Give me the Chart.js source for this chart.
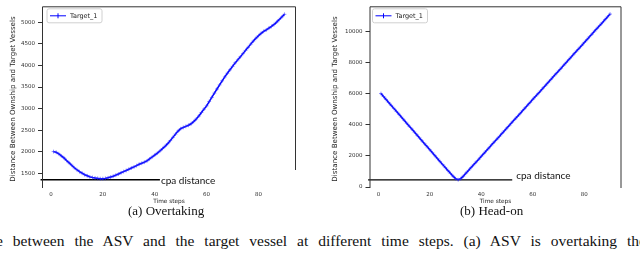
<!DOCTYPE html>
<html>
<head>
<meta charset="utf-8">
<script src="https://cdn.jsdelivr.net/npm/chart.js@4.4.1/dist/chart.umd.min.js"></script>
<style>
  html, body { margin: 0; padding: 0; background: #fff; }
  body { width: 640px; height: 256px; position: relative; overflow: hidden; }
  .panel { position: absolute; top: 0; width: 320px; height: 206px; }
  .cap { position: absolute; font-family: "Liberation Serif", serif; font-size: 13px; color: #111; white-space: nowrap; }
  #para { position: absolute; left: -4px; top: 232px; width: 650px; font-family: "Liberation Serif", serif;
          font-size: 15.5px; color: #111; text-align: justify; text-align-last: justify; }
</style>
</head>
<body>
<div class="panel" style="left:0"><canvas id="overtaking"></canvas></div>
<div class="panel" style="left:320px"><canvas id="headon"></canvas></div>
<div class="cap" style="left:128px; top:203px">(a) Overtaking</div>
<div class="cap" style="left:460px; top:203px">(b) Head-on</div>
<div id="para">e between the ASV and the target vessel at different time steps. (a) ASV is overtaking the</div>
<script>
// time steps shared by both runs
const steps = [];
for (let i = 1; i <= 90; i++) steps.push(i);
const xTicks = [0, 20, 40, 60, 80];

// (a) overtaking: distance per time step
const overtakingDist = [
  2005, 1990, 1955, 1905, 1860, 1800, 1745, 1690, 1630, 1585,
  1540, 1505, 1470, 1445, 1420, 1405, 1393, 1385, 1378, 1378,
  1385, 1398, 1415, 1435, 1460, 1485, 1515, 1542, 1568, 1595,
  1625, 1650, 1680, 1712, 1735, 1760, 1790, 1835, 1880, 1925,
  1970, 2020, 2075, 2130, 2190, 2260, 2335, 2410, 2480, 2535,
  2565, 2590, 2615, 2650, 2700, 2760, 2830, 2910, 2990, 3065,
  3165, 3260, 3360, 3455, 3550, 3645, 3735, 3820, 3900, 3980,
  4060, 4130, 4200, 4275, 4350, 4420, 4495, 4565, 4630, 4690,
  4745, 4790, 4825, 4865, 4905, 4950, 5005, 5065, 5125, 5185
];
const overtakingCpa = 1353;
const overtakingCpaX = [-4, 42];
const overtakingYTicks = [1500, 2000, 2500, 3000, 3500, 4000, 4500, 5000];

// (b) head-on: distance per time step
const headonDist = [
  6000, 5810, 5620, 5430, 5240, 5050, 4860, 4670, 4480, 4290,
  4100, 3910, 3720, 3530, 3340, 3150, 2960, 2770, 2580, 2390,
  2200, 2010, 1820, 1630, 1440, 1250, 1060, 880, 700, 540,
  470, 540, 700, 890, 1070, 1250, 1430, 1610, 1790, 1980,
  2160, 2340, 2520, 2710, 2890, 3070, 3250, 3440, 3620, 3800,
  3980, 4170, 4350, 4530, 4710, 4900, 5080, 5260, 5440, 5630,
  5810, 5990, 6170, 6360, 6540, 6720, 6900, 7090, 7270, 7450,
  7630, 7820, 8000, 8180, 8360, 8550, 8730, 8910, 9090, 9280,
  9460, 9640, 9820, 10010, 10190, 10370, 10550, 10740, 10920, 11100
];
const headonCpa = 460;
const headonCpaX = [-4, 52];
const headonYTicks = [0, 2000, 4000, 6000, 8000, 10000];

const seriesName = 'Target_1';
const xTitle = 'Time steps';
const yTitle = 'Distance Between Ownship and Target Vessels';
const cpaLabel = 'cpa distance';

const BLUE = '#0000ff';
const AXIS = '#333';
const TICK_FONT = { family: 'DejaVu Sans', size: 5.5 };

// frame (top/left/right spines), legend box, axis titles and the cpa label
const decor = {
  id: 'decor',
  afterDatasetsDraw(chart, args, o) {
    const { ctx, chartArea: a, scales } = chart;
    ctx.save();
    ctx.strokeStyle = AXIS;
    ctx.lineWidth = 1;
    ctx.beginPath();
    ctx.moveTo(a.left + 0.5, a.bottom);
    ctx.lineTo(a.left + 0.5, a.top + 0.5);
    ctx.lineTo(a.right - 0.5, a.top + 0.5);
    ctx.lineTo(a.right - 0.5, o.rightStop || a.bottom);
    ctx.stroke();

    // legend
    const lx = a.left + o.legendDx, ly = a.top + 2.5, lw = 55, lh = 14;
    ctx.strokeStyle = '#d0d0d0';
    ctx.fillStyle = 'rgba(255,255,255,0.8)';
    ctx.beginPath();
    ctx.roundRect(lx, ly, lw, lh, 2);
    ctx.fill();
    ctx.stroke();
    ctx.strokeStyle = BLUE;
    ctx.beginPath();
    ctx.moveTo(lx + 3, ly + lh / 2);
    ctx.lineTo(lx + 19, ly + lh / 2);
    ctx.moveTo(lx + 11, ly + lh / 2 - 2.5);
    ctx.lineTo(lx + 11, ly + lh / 2 + 2.5);
    ctx.stroke();
    ctx.fillStyle = '#222';
    ctx.font = '6.5px "DejaVu Sans"';
    ctx.textBaseline = 'middle';
    ctx.fillText(seriesName, lx + 23, ly + lh / 2 + 0.5);

    // x axis title under the tick labels
    ctx.font = '5.8px "DejaVu Sans"';
    ctx.textAlign = 'center';
    ctx.fillText(xTitle, (a.left + a.right) / 2, a.bottom + 13);

    // y axis title, rotated
    ctx.save();
    ctx.translate(o.yTitleX, 99);
    ctx.rotate(-Math.PI / 2);
    ctx.font = '7.1px "DejaVu Sans"';
    ctx.fillText(yTitle, 0, 0);
    ctx.restore();

    // cpa label
    const cx = scales.x.getPixelForValue(o.cpaX[1]);
    const cy = scales.y.getPixelForValue(o.cpa);
    ctx.fillStyle = '#111';
    ctx.font = '10px Lato';
    ctx.textAlign = 'left';
    ctx.fillText(cpaLabel, cx + o.labelDx, cy + o.labelDy);
    ctx.restore();
  }
};

function fixedTicks(values) {
  return scale => { scale.ticks = values.map(v => ({ value: v })); };
}

function makeChart(id, dist, cpa, cpaX, yTicks, yMin, yMax, yWidth, padRight, deco) {
  return new Chart(document.getElementById(id), {
    type: 'line',
    data: {
      datasets: [{
        label: seriesName,
        data: steps.map((s, i) => ({ x: s, y: dist[i] })),
        borderColor: BLUE,
        backgroundColor: BLUE,
        borderWidth: 1.5,
        pointStyle: 'cross',
        pointRadius: 1.9,
        pointBorderWidth: 0.8,
        pointBorderColor: 'rgba(40,40,255,0.7)',
        tension: 0
      }, {
        label: 'cpa',
        data: cpaX.map(x => ({ x: x, y: cpa })),
        borderColor: '#000',
        borderWidth: 1.4,
        pointRadius: 0,
        clip: false
      }]
    },
    options: {
      responsive: true,
      maintainAspectRatio: false,
      animation: false,
      layout: { padding: { top: 1, right: padRight, left: 0, bottom: 0 } },
      plugins: {
        legend: { display: false },
        tooltip: { enabled: false },
        decor: deco
      },
      scales: {
        x: {
          type: 'linear',
          min: -3.45, max: 94.45,
          afterBuildTicks: fixedTicks(xTicks),
          afterFit: s => { s.height = 18; },
          grid: { display: false, drawTicks: false, tickLength: 0 },
          border: { display: false },
          ticks: { color: '#333', font: TICK_FONT, padding: 3, maxRotation: 0, callback: v => String(v) }
        },
        y: {
          min: yMin, max: yMax,
          afterBuildTicks: fixedTicks(yTicks),
          afterFit: s => { s.width = yWidth; },
          grid: { display: true, drawOnChartArea: false, drawTicks: true, tickLength: 4, color: AXIS },
          border: { display: false },
          ticks: { color: '#333', font: TICK_FONT, padding: 3, callback: v => String(v) }
        }
      }
    },
    plugins: [decor]
  });
}

makeChart('overtaking', overtakingDist, overtakingCpa, overtakingCpaX, overtakingYTicks, 1162, 5371, 42, 24,
  { rightStop: 170, legendDx: 5, yTitleX: 13.5, cpa: overtakingCpa, cpaX: overtakingCpaX, labelDx: 1, labelDy: 1.5 });
makeChart('headon', headonDist, headonCpa, headonCpaX, headonYTicks, -60, 11600, 49.5, 18.5,
  { rightStop: null, legendDx: 3, yTitleX: 15.5, cpa: headonCpa, cpaX: headonCpaX, labelDx: 4, labelDy: -4 });
</script>
</body>
</html>
